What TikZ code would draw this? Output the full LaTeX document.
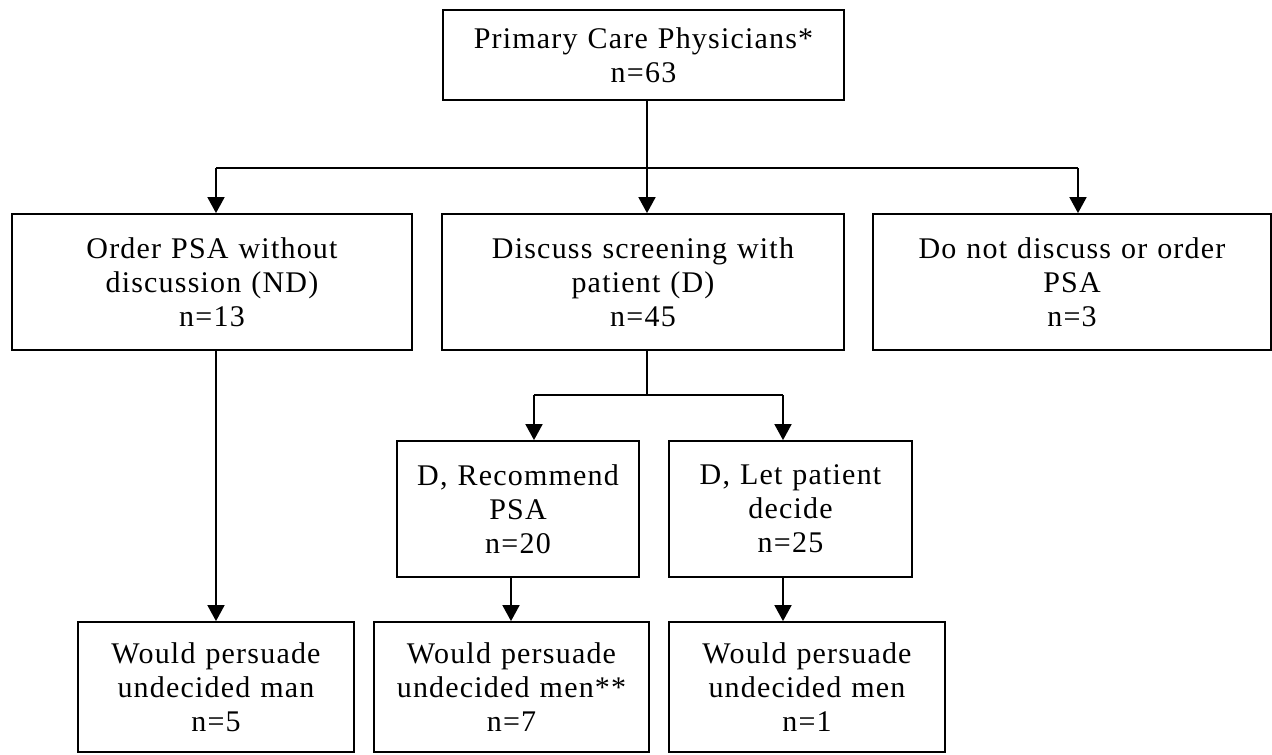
\documentclass[tikz,border=0pt]{standalone}
\usepackage{fontspec}
\setmainfont[LetterSpace=4]{Liberation Serif}
\usetikzlibrary{arrows.meta}
\begin{document}
\begin{tikzpicture}[x=1pt,y=-1pt,
  box/.style={draw,line width=1.8pt,rectangle,inner sep=0pt,align=center,
    font=\fontsize{30}{34}\selectfont},
  link/.style={line width=1.8pt},
  arr/.style={line width=1.8pt,-{Triangle[width=17pt,length=16pt]}}]
\useasboundingbox (0,0) rectangle (1272,755);
% top
\node[box,minimum width=401pt,minimum height=90pt,text width=390pt] (top) at (643.5,55) {Primary Care Physicians*\\n=63};
% row 2
\node[box,minimum width=400pt,minimum height=136pt,text width=380pt] (b1) at (212,282) {Order PSA without\\discussion (ND)\\n=13};
\node[box,minimum width=402pt,minimum height=136pt,text width=380pt] (b2) at (643,282) {Discuss screening with\\patient (D)\\n=45};
\node[box,minimum width=398pt,minimum height=136pt,text width=380pt] (b3) at (1072,282) {Do not discuss or order\\PSA\\n=3};
% row 3
\node[box,minimum width=242pt,minimum height=136pt,text width=230pt] (r1) at (518,509) {D, Recommend\\PSA\\n=20};
\node[box,minimum width=243pt,minimum height=136pt,text width=230pt] (r2) at (790.5,509) {D, Let patient\\decide\\n=25};
% row 4
\node[box,minimum width=276pt,minimum height=130pt,text width=264pt] (d1) at (216,687) {Would persuade\\undecided man\\n=5};
\node[box,minimum width=275pt,minimum height=130pt,text width=264pt] (d2) at (511.5,687) {Would persuade\\undecided men**\\n=7};
\node[box,minimum width=276pt,minimum height=130pt,text width=264pt] (d3) at (807,687) {Would persuade\\undecided men\\n=1};
% connector x positions
\coordinate (xa) at (216,0);
\coordinate (xb) at (647,0);
\coordinate (xc) at (1078,0);
\coordinate (xr1) at (534,0);
\coordinate (xr2) at (783,0);
\coordinate (xd2) at (511,0);
% top to row 2
\coordinate (j1) at (647,168);
\draw[link] (top.south -| xb) -- (j1);
\draw[link] (j1 -| xa) -- (j1 -| xc);
\draw[arr] (j1 -| xa) -- (b1.north -| xa);
\draw[arr] (j1) -- (b2.north -| xb);
\draw[arr] (j1 -| xc) -- (b3.north -| xc);
% row 2 to row 3
\coordinate (j2) at (647,395);
\draw[link] (b2.south -| xb) -- (j2);
\draw[link] (j2 -| xr1) -- (j2 -| xr2);
\draw[arr] (j2 -| xr1) -- (r1.north -| xr1);
\draw[arr] (j2 -| xr2) -- (r2.north -| xr2);
% to row 4
\draw[arr] (b1.south -| xa) -- (d1.north -| xa);
\draw[arr] (r1.south -| xd2) -- (d2.north -| xd2);
\draw[arr] (r2.south -| xr2) -- (d3.north -| xr2);
\end{tikzpicture}
\end{document}
